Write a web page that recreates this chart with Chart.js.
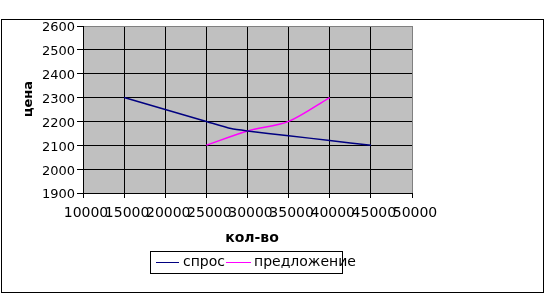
<!DOCTYPE html>
<html lang="ru">
<head>
    <meta charset="UTF-8">
    <title>спрос и предложение</title>
    <script src="https://cdn.jsdelivr.net/npm/chart.js"></script>
    <style>
        body { margin: 0; background: #fff; }
    </style>
</head>
<body>

<canvas id="supplyDemand" width="555" height="293"></canvas>

<script>
    // данные
    const demandQty = [15000, 20000, 25000, 28000, 30000, 35000, 40000, 45000];
    const demandPrice = [2300, 2250, 2200, 2170, 2160, 2140, 2120, 2100];
    const supplyQty = [25000, 30000, 35000, 40000];
    const supplyPrice = [2100, 2160, 2200, 2300];

    const xTitle = 'кол-во';
    const yTitle = 'цена';

    const toPoints = (xs, ys) => xs.map((x, i) => ({ x: x, y: ys[i] }));

    // фон, рамка, подписи осей и легенда
    const decor = {
        id: 'decor',
        beforeDraw(chart) {
            const { ctx, chartArea: a } = chart;
            ctx.save();
            ctx.fillStyle = '#fff';
            ctx.fillRect(0, 0, chart.width, chart.height);
            ctx.fillStyle = '#c0c0c0';
            ctx.fillRect(a.left, a.top, a.right - a.left, a.bottom - a.top);
            ctx.restore();
        },
        afterDraw(chart) {
            const { ctx } = chart;
            ctx.save();
            ctx.strokeStyle = '#000';
            ctx.lineWidth = 1;
            ctx.strokeRect(1.5, 19.5, 542, 273);

            ctx.fillStyle = '#000';
            ctx.textAlign = 'center';
            ctx.textBaseline = 'middle';
            ctx.font = 'bold 14px "DejaVu Sans"';
            ctx.fillText(xTitle, 252, 238);
            ctx.font = 'bold 13px "DejaVu Sans"';
            ctx.save();
            ctx.translate(29, 99);
            ctx.rotate(-Math.PI / 2);
            ctx.fillText(yTitle, 0, 0);
            ctx.restore();

            // легенда
            ctx.strokeRect(150.5, 251.5, 192, 22);
            ctx.font = '14px "DejaVu Sans"';
            ctx.textAlign = 'left';
            const items = [[156, 179, 183], [226, 251, 254]];
            chart.data.datasets.forEach((ds, i) => {
                const [x0, x1, tx] = items[i];
                ctx.strokeStyle = ds.borderColor;
                ctx.lineWidth = 1;
                ctx.beginPath();
                ctx.moveTo(x0, 262.5);
                ctx.lineTo(x1, 262.5);
                ctx.stroke();
                ctx.fillText(ds.label, tx, 262);
            });
            ctx.restore();
        }
    };

    const ctx = document.getElementById('supplyDemand').getContext('2d');
    const chart = new Chart(ctx, {
        type: 'line',
        data: {
            datasets: [{
                label: 'спрос',
                data: toPoints(demandQty, demandPrice),
                borderColor: '#000080',
                borderWidth: 1.5,
                pointRadius: 0,
                tension: 0.2
            }, {
                label: 'предложение',
                data: toPoints(supplyQty, supplyPrice),
                borderColor: '#ff00ff',
                borderWidth: 1.5,
                pointRadius: 0,
                tension: 0.3
            }]
        },
        options: {
            responsive: false,
            animation: false,
            layout: { padding: { left: 0, top: 26, right: 143, bottom: 0 } },
            plugins: {
                legend: { display: false },
                tooltip: { enabled: false }
            },
            scales: {
                x: {
                    type: 'linear',
                    min: 10000,
                    max: 50000,
                    afterFit: s => { s.height = 100; },
                    ticks: {
                        stepSize: 5000,
                        autoSkip: false,
                        maxRotation: 0,
                        minRotation: 0,
                        padding: 7,
                        labelOffset: 3,
                        color: '#000',
                        font: { family: 'DejaVu Sans', size: 14 },
                        callback: v => String(v)
                    },
                    grid: {
                        color: c => c.tick && c.tick.value === 50000 ? '#808080' : '#000',
                        tickColor: '#000',
                        tickLength: 5
                    },
                    border: { color: '#000' }
                },
                y: {
                    min: 1900,
                    max: 2600,
                    afterFit: s => { s.width = 83; },
                    ticks: {
                        stepSize: 100,
                        padding: 2,
                        labelOffset: 2,
                        color: '#000',
                        font: { family: 'DejaVu Sans', size: 13 },
                        callback: v => String(v)
                    },
                    grid: {
                        color: c => c.tick && c.tick.value === 2600 ? '#808080' : '#000',
                        tickColor: '#000',
                        tickLength: 6
                    },
                    border: { color: '#000' }
                }
            }
        },
        plugins: [decor]
    });
</script>

</body>
</html>
